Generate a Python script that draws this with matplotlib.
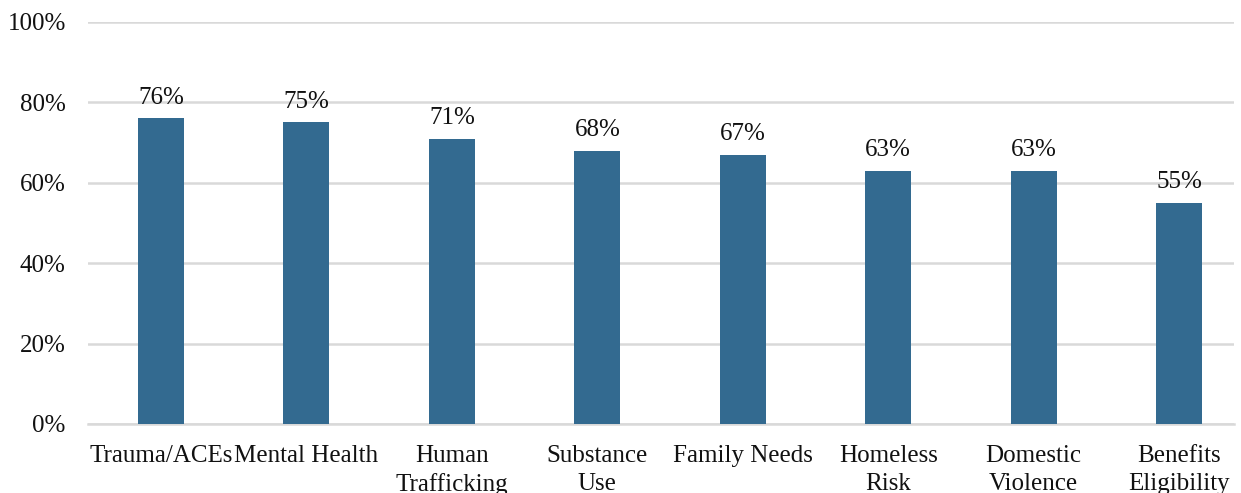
import matplotlib.pyplot as plt
import numpy as np

categories = ["Trauma/ACEs", "Mental Health", "Human\nTrafficking", "Substance\nUse",
              "Family Needs", "Homeless\nRisk", "Domestic\nViolence", "Benefits\nEligibility"]
values = [76, 75, 71, 68, 67, 63, 63, 55]

plt.rcParams['font.family'] = ['Liberation Serif', 'DejaVu Serif']

fig = plt.figure(figsize=(12.41, 4.93), dpi=100)
ax = fig.add_axes([0.0709, 0.14, 0.9235, 0.8154])

x = np.arange(len(categories))
bars = ax.bar(x, values, width=0.316, color='#336a90', zorder=3)
for xi, v in zip(x, values):
    ax.text(xi, v + 2.4, "{}%".format(v), ha='center', va='bottom', fontsize=18, color='#111111', zorder=4)

ax.set_ylim(0, 100)
ax.set_xlim(-0.502, 7.378)
ax.set_yticks(np.arange(0, 101, 20))
ax.set_yticklabels(["{}%".format(t) for t in range(0, 101, 20)], fontsize=18)
ax.set_xticks(x)
ax.set_xticklabels(categories, fontsize=18, linespacing=1.35)
ax.yaxis.grid(True, color='#d9d9d9', linewidth=1.8, zorder=0)
ax.tick_params(axis='both', length=0, colors='#111111')
ax.tick_params(axis='y', pad=16)
ax.tick_params(axis='x', pad=15)
for s in ['top', 'right', 'left']:
    ax.spines[s].set_visible(False)
ax.spines['bottom'].set_color('#d9d9d9')
ax.spines['bottom'].set_linewidth(1.8)

fig.savefig("out.png", dpi=100)
